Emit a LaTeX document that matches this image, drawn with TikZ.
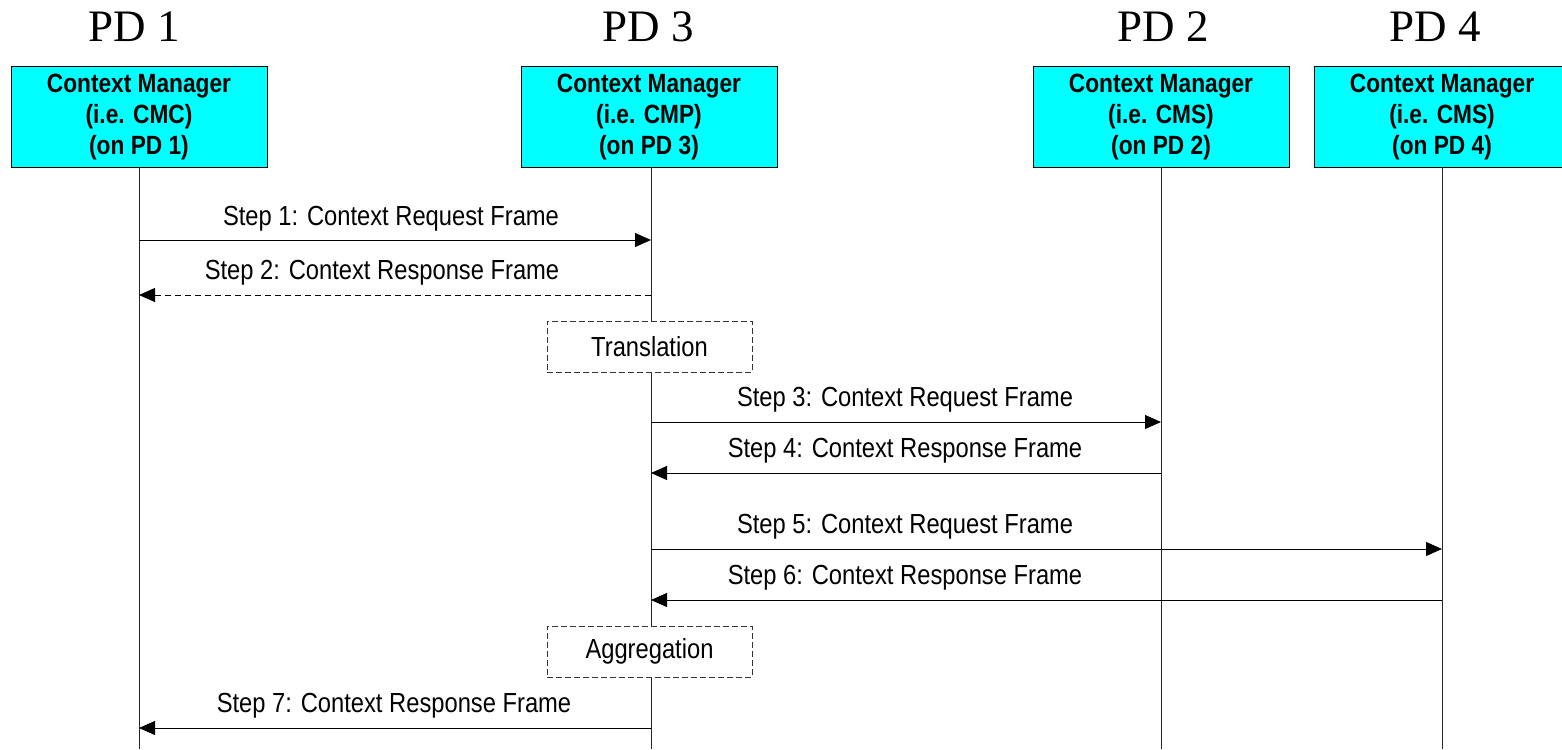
\documentclass[tikz,border=0pt]{standalone}
\usepackage{fontspec}
\setmainfont{Liberation Serif}
\newfontfamily\lab[FakeStretch=0.86]{Liberation Sans}
\usetikzlibrary{arrows.meta,calc}
\definecolor{cmcyan}{RGB}{0,255,255}
\begin{document}
\begin{tikzpicture}[x=0.5pt,y=-0.5pt,
  title/.style={anchor=base, font=\fontsize{22.5}{27}\selectfont, inner sep=0pt},
  cmbox/.style={draw=black, fill=cmcyan, minimum width=128pt, minimum height=50pt, align=center,
    font=\lab\bfseries\fontsize{13.2}{15.5}\selectfont, inner sep=0pt, line width=0.5pt},
  life/.style={draw=black!85, line width=0.5pt},
  msg/.style={draw=black, line width=0.5pt, -{Triangle[length=8pt,width=7pt]}},
  reply/.style={msg, dash pattern=on 3pt off 2pt},
  lbl/.style={anchor=base, font=\lab\fontsize{13.8}{16}\selectfont, inner sep=0pt},
  proc/.style={draw=black!80, fill=white, dash pattern=on 3pt off 1.5pt, line width=0.5pt,
    minimum width=102.5pt, minimum height=25.5pt, inner sep=0pt, font=\lab\fontsize{13.8}{16}\selectfont}
]
\useasboundingbox (0,0) rectangle (1562,749);
% titles
\node[title] (h1) at (134,42) {PD 1};
\node[title] (h3) at (648,42) {PD 3};
\node[title] (h2) at (1163,42) {PD 2};
\node[title] (h4) at (1435,42) {PD 4};
% boxes
\node[cmbox] (b1) at (139,117) {Context Manager\\(i.e. CMC)\\(on PD 1)};
\node[cmbox] (b3) at (649,117) {Context Manager\\(i.e. CMP)\\(on PD 3)};
\node[cmbox] (b2) at (1161,117) {Context Manager\\(i.e. CMS)\\(on PD 2)};
\node[cmbox] (b4) at (1442,117) {Context Manager\\(i.e. CMS)\\(on PD 4)};
% lifeline ends
\coordinate (e1) at (139,749);
\coordinate (e3) at (651,749);
\coordinate (e2) at (1161,749);
\coordinate (e4) at (1442,749);
\draw[life] (139,167) -- (e1);
\draw[life] (651,167) -- (e3);
\draw[life] (1161,167) -- (e2);
\draw[life] (1442,167) -- (e4);
% process boxes
\node[proc] (tr) at (649.5,346.5) {Translation};
\node[proc] (ag) at (649.5,651.5) {Aggregation};
% message points
\coordinate (a1) at (139,240); \coordinate (c1) at (651,240);
\coordinate (a2) at (651,295); \coordinate (c2) at (139,295);
\coordinate (a3) at (651,422); \coordinate (c3) at (1161,422);
\coordinate (a4) at (1161,473); \coordinate (c4) at (651,473);
\coordinate (a5) at (651,549); \coordinate (c5) at (1442,549);
\coordinate (a6) at (1442,600); \coordinate (c6) at (651,600);
\coordinate (a7) at (651,728); \coordinate (c7) at (139,728);
\draw[msg] (a1) -- (c1);
\draw[reply] (a2) -- (c2);
\draw[msg] (a3) -- (c3);
\draw[msg] (a4) -- (c4);
\draw[msg] (a5) -- (c5);
\draw[msg] (a6) -- (c6);
\draw[msg] (a7) -- (c7);
% labels
\node[lbl] (t1) at (391,225) {Step 1: Context Request Frame};
\node[lbl] (t2) at (382,279) {Step 2: Context Response Frame};
\node[lbl] (t3) at (905,406) {Step 3: Context Request Frame};
\node[lbl] (t4) at (905,457) {Step 4: Context Response Frame};
\node[lbl] (t5) at (905,533) {Step 5: Context Request Frame};
\node[lbl] (t6) at (905,584) {Step 6: Context Response Frame};
\node[lbl] (t7) at (394,712) {Step 7: Context Response Frame};
\end{tikzpicture}
\end{document}
